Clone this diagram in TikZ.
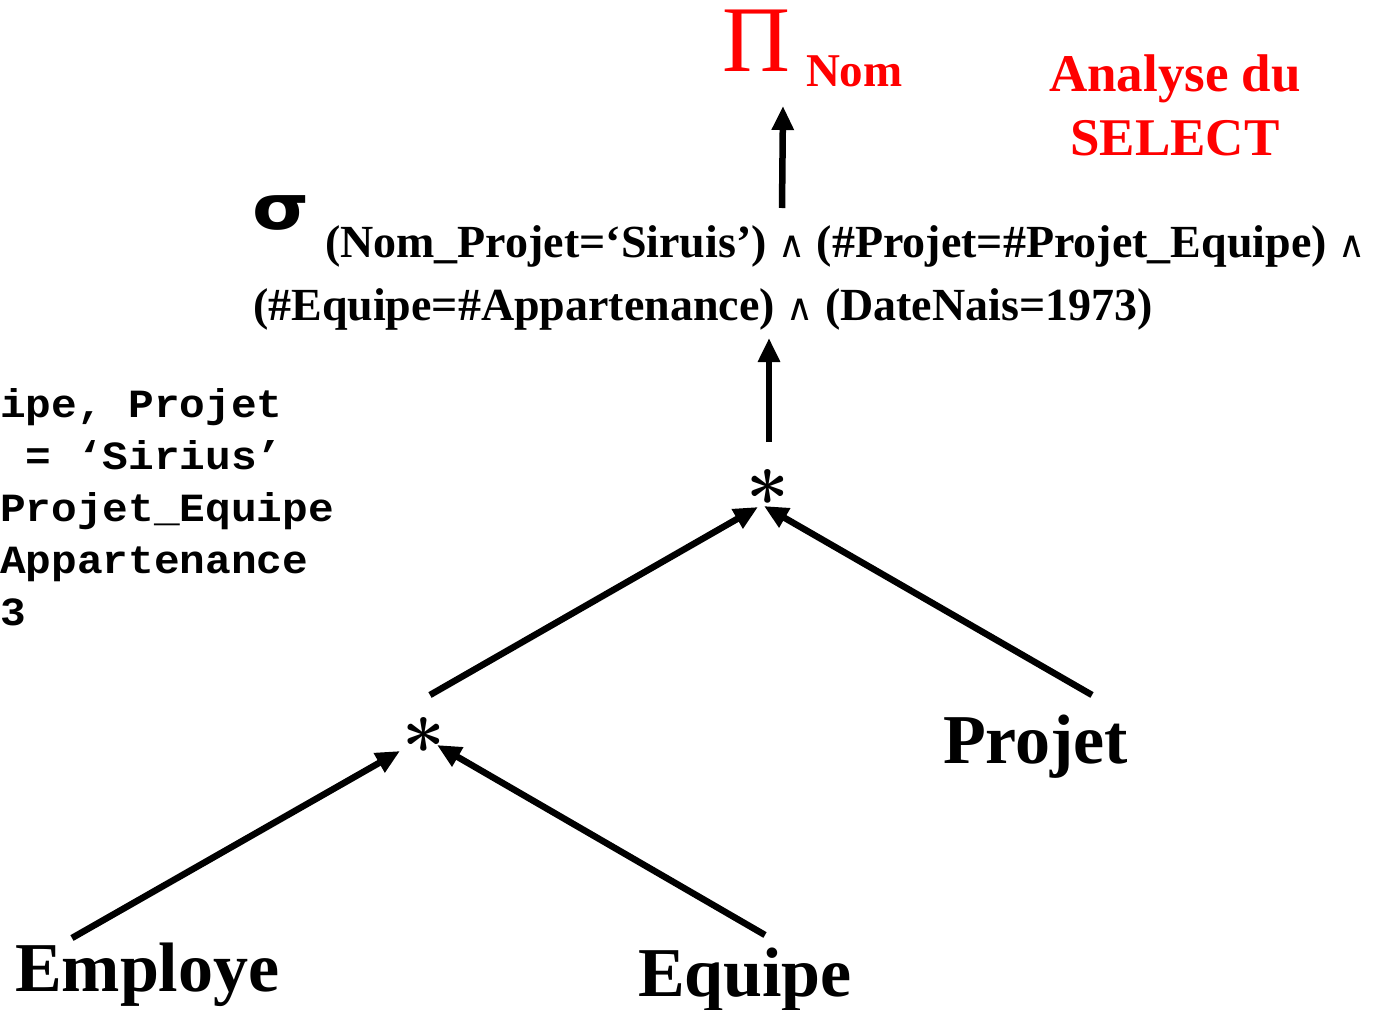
\documentclass[tikz,border=0pt]{standalone}
\usepackage{fontspec}
\usepackage{graphicx}
\setmainfont{Liberation Serif}
\newfontfamily\codefont{Liberation Mono}
\newfontfamily\symfont{DejaVu Sans}
\newfontfamily\starfont{Latin Modern Roman}
\usetikzlibrary{arrows.meta,calc}

% logical "and" between the selection conditions
\newcommand{\andop}{{\symfont\mdseries\fontsize{37}{37}\selectfont ∧}}
% widened monospace text for the SQL fragment
\newcommand{\widetext}[1]{\scalebox{1.07}[1]{#1}}

\tikzset{
  lbl/.style={inner sep=0pt, outer sep=0pt, anchor=base west},
  relname/.style={lbl, font=\fontsize{70}{70}\selectfont\bfseries},
  joinop/.style={inner sep=0pt, outer sep=0pt, anchor=base, font=\starfont\bfseries\fontsize{76}{76}\selectfont},
  cond/.style={lbl, font=\fontsize{46}{46}\selectfont\bfseries},
  sqlline/.style={lbl, font=\codefont\bfseries\fontsize{40}{40}\selectfont},
  flow/.style={line width=6.5pt, -{Triangle[length=24pt,width=21pt]}},
  accent/.style={text=red},
}

\begin{document}
\begin{tikzpicture}[x=1pt, y=-1pt]
  \fill[white] (0,0) rectangle (1381,1009);
  \useasboundingbox (0,0) rectangle (1381,1009);

  % projection
  \node[lbl, accent, font=\fontsize{94}{94}\selectfont] (pi) at (722,71) {Π};
  \node[lbl, accent, font=\fontsize{47}{47}\selectfont\bfseries] (pinom) at (806,86) {Nom};

  % title
  \node[inner sep=0pt, outer sep=0pt, anchor=north, align=center, accent,
        font=\fontsize{53}{64}\selectfont\bfseries] (title) at (1175,55) {Analyse du\\SELECT};

  % selection
  \node[lbl, font=\symfont\bfseries\fontsize{62}{62}\selectfont] (sigma) at (252,229) {\scalebox{1.18}[1]{σ}};
  \node[cond] (sel1) at (325,257)
    {(Nom\_Projet=‘Siruis’) \andop{} (\#Projet=\#Projet\_Equipe) \andop};
  \node[cond] (sel2) at (253,320)
    {(\#Equipe=\#Appartenance) \andop{} (DateNais=1973)};

  % SQL fragment
  \node[sqlline] (q1) at (0,417) {\widetext{ipe, Projet}};
  \node[sqlline] (q2) at (0,469) {\widetext{\phantom{=}= ‘Sirius’}};
  \node[sqlline] (q3) at (0,521) {\widetext{Projet\_Equipe}};
  \node[sqlline] (q4) at (0,573) {\widetext{Appartenance}};
  \node[sqlline] (q5) at (0,625) {\widetext{3}};

  % joins
  \node[joinop] (join1) at (768,526) {*};
  \node[joinop] (join2) at (424,774) {*};

  % relations
  \node[relname] (emp) at (15,991) {Employe};
  \node[relname] (equ) at (638,996) {Equipe};
  \node[relname] (prj) at (943,763) {Projet};

  % data flow
  \draw[flow] ($(emp.base west)+(57,-53)$) -- ($(join2.base)+(-24,-23)$);
  \draw[flow] ($(equ.base west)+(127,-61)$) -- ($(join2.base)+(13,-29)$);
  \draw[flow] ($(join2.base)+(6,-79)$) -- ($(join1.base)+(-10,-19)$);
  \draw[flow] ($(prj.base west)+(149,-68)$) -- ($(join1.base)+(-4,-20)$);
  \draw[flow] ($(join1.base)+(1,-84)$) -- ($(sel2.base west)+(516,18)$);
  \draw[flow] ($(sel1.base west)+(457,-49)$) -- ($(pi.base west)+(61,35)$);
\end{tikzpicture}
\end{document}
